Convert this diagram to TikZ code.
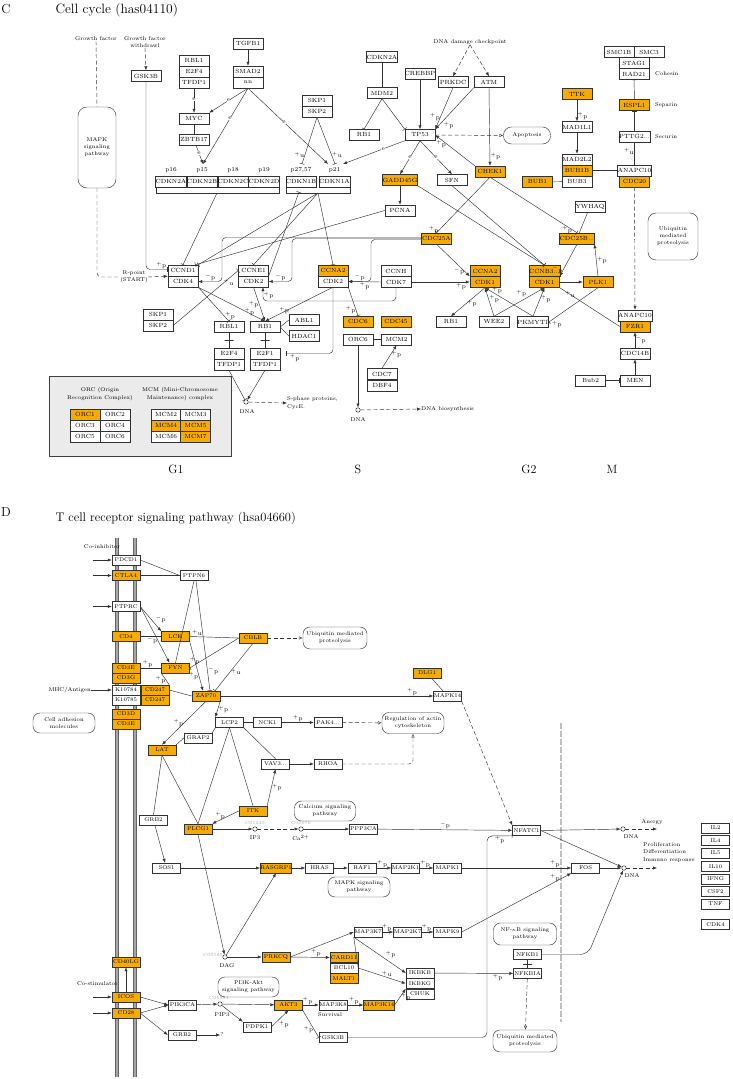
\documentclass[tikz,border=0pt]{standalone}
\usepackage{fontspec}
\usetikzlibrary{arrows.meta}
\definecolor{keggorange}{RGB}{246,171,0}
\tikzset{
  gene/.style={draw=black!80, fill=white, minimum width=30pt, minimum height=11pt, inner sep=0pt, font=\fontsize{6}{6}\selectfont},
  hit/.style={fill=keggorange},
  gd/.style={gene, minimum width=28pt, minimum height=10pt, font=\fontsize{5.5}{6}\selectfont},
  pway/.style={draw=black!80, rounded corners=5pt, align=center, inner sep=1pt, font=\fontsize{5.5}{7}\selectfont},
  txt/.style={align=center, inner sep=0pt, font=\fontsize{5.5}{7.5}\selectfont},
  lab/.style={inner sep=0.5pt, font=\fontsize{6}{6}\selectfont},
  elab/.style={lab, fill=white, inner sep=0.2pt},
  cpd/.style={circle, draw=black!85, fill=white, inner sep=0pt, minimum size=4.5pt},
  cid/.style={inner sep=0pt, text=black!35, font=\fontsize{4.5}{5}\selectfont},
  act/.style={draw=black!80, -{Latex[length=4pt,width=3.2pt]}},
  inh/.style={draw=black!80, -{Bar[width=5pt]}},
  lnk/.style={draw=black!80},
  dsh/.style={dash pattern=on 4pt off 2.5pt},
  opn/.style={draw=black!80, -{Latex[open,length=4pt,width=3.5pt]}},
  xbar/.style={draw=black!80, minimum width=9pt, minimum height=0pt, inner sep=0pt},
  phase/.style={font=\fontsize{12}{14}\selectfont},
  membrane/.style={draw=black!60, line width=0.6pt, double=black!35, double distance=2pt},
}
\begin{document}
\begin{tikzpicture}[x=1pt, y=-1pt, line width=0.45pt]
\useasboundingbox (0,0) rectangle (732,1079);

% ===== C =====
\node[font=\fontsize{13}{15}\selectfont] (labC) at (6,9) {C};
\node[anchor=west, font=\fontsize{13.5}{16}\selectfont] (titleC) at (52,10) {Cell cycle (has04110)};

% G1 左边
\node[txt] (gf) at (96,39) {Growth factor};
\node[txt] (gfw) at (145,42) {Growth factor\\withdrawl};
\node[pway, rounded corners=9pt, minimum width=38pt, minimum height=81pt] (mapkC) at (97,147.5) {MAPK\\signaling\\pathway};
\node[txt] (rpoint) at (134,277) {R-point\\(START)};
\node[gene] (gsk3bC) at (146,76) {GSK3B};

\node[gene] (rbl1t) at (194,60.5) {RBL1};
\node[gene] (e2f4t) at (194,71.5) {E2F4};
\node[gene] (tfdp1t) at (194,82.5) {TFDP1};
\node[gene] (tgfb1) at (248,43.5) {TGFB1};
\node[gene] (smad2) at (248,71.5) {SMAD2};
\node[gene] (nn) at (248,82.5) {nn};
\node[gene] (myc) at (194,118.5) {MYC};
\node[gene] (zbtb17) at (194,140) {ZBTB17};
\node[gene] (skp1t) at (317,100.5) {SKP1};
\node[gene] (skp2t) at (317,111.5) {SKP2};

% CDKN
\node[gene] (cdkn2a) at (171,181.5) {CDKN2A};
\node[gene] (cdkn2b) at (202,181.5) {CDKN2B};
\node[gene] (cdkn2c) at (233,181.5) {CDKN2C};
\node[gene] (cdkn2d) at (264,181.5) {CDKN2D};
\node[gene] (cdkn1b) at (301,181.5) {CDKN1B};
\node[gene] (cdkn1a) at (334.5,181.5) {CDKN1A};
\node[lab] (p16) at (171,170) {p16};
\node[lab] (p15) at (202,170) {p15};
\node[lab] (p18) at (233,170) {p18};
\node[lab] (p19) at (264,170) {p19};
\node[lab] (p27) at (301,170) {p27,57};
\node[lab] (p21) at (334.5,170) {p21};
\draw[lnk] (156,188) -- (156,193) -- (279,193) -- (279,188);
\draw[lnk] (286,188) -- (286,193) -- (350,193) -- (350,188);
\coordinate (brk1) at (217,193);
\coordinate (brk2) at (318,193);
\coordinate (p27bar) at (299,192);
\coordinate (p15in) at (203,164);
\coordinate (p27in) at (302,164);
\coordinate (p21a) at (328,164);
\coordinate (p21u) at (335,164);
\coordinate (p21b) at (343,164);

% TP53
\node[gene] (cdkn2at) at (382,57) {CDKN2A};
\node[gene] (mdm2) at (382,93) {MDM2};
\node[gene] (rb1t) at (364,135) {RB1};
\node[gene] (crebbp) at (420,73.5) {CREBBP};
\node[gene] (prkdc) at (453,82) {PRKDC};
\node[gene] (atm) at (489,82) {ATM};
\node[txt] (dnadc) at (470,42) {DNA damage checkpoint};
\node[gene] (tp53) at (420,135) {TP53};
\node[pway, rounded corners=8pt, minimum width=47pt, minimum height=17pt] (apoptosis) at (527,135.5) {Apoptosis};
\node[gene, hit] (gadd45g) at (400,180) {GADD45G};
\node[gene] (sfn) at (452,180) {SFN};
\node[gene, hit] (chek1) at (490,171.5) {CHEK1};
\node[gene] (pcna) at (400,210.5) {PCNA};

% M 右边
\node[gene, hit] (ttk) at (577,94) {TTK};
\node[gene] (mad1l1) at (577,127) {MAD1L1};
\node[gene] (mad2l2) at (577,159.5) {MAD2L2};
\node[gene, hit] (bub1b) at (577,170.5) {BUB1B};
\node[gene] (bub3) at (577,181.5) {BUB3};
\node[gene, hit] (bub1) at (537.5,182) {BUB1};
\node[gene] (smc1b) at (619,52) {SMC1B};
\node[gene] (smc3) at (649,52) {SMC3};
\node[gene] (stag1) at (634,63) {STAG1};
\node[gene] (rad21) at (634,74) {RAD21};
\node[txt, anchor=west] (cohesin) at (655,74) {Cohesin};
\node[gene, hit] (espl1) at (634.5,105) {ESPL1};
\node[txt, anchor=west] (separin) at (655,105) {Separin};
\node[gene] (pttg2) at (634.5,136.5) {PTTG2...};
\node[txt, anchor=west] (securin) at (655,136.5) {Securin};
\node[gene] (anapc10t) at (634.5,170.5) {ANAPC10};
\node[gene, hit] (cdc20) at (634.5,181.5) {CDC20};
\node[pway, rounded corners=8pt, minimum width=50pt, minimum height=47pt] (ubiC) at (673,236.5) {Ubiquitin\\mediated\\proteolysis};
\node[gene] (ywhaq) at (590,206.5) {YWHAQ};
\node[gene, hit] (cdc25b) at (577,238.5) {CDC25B...};
\node[gene, hit] (cdc25a) at (436.5,238.5) {CDC25A};

% G2
\node[gene, hit] (ccna2b) at (485,271) {CCNA2};
\node[gene, hit] (cdk1a) at (485,282) {CDK1};
\node[gene, hit] (ccnb3) at (544.5,271) {CCNB3...};
\node[gene, hit] (cdk1b) at (544.5,282) {CDK1};
\node[gene, hit] (plk1) at (598,282) {PLK1};
\node[gene] (ccnh) at (396,271) {CCNH};
\node[gene] (cdk7) at (396,282) {CDK7};
\node[gene] (rb1g2) at (451,322) {RB1};
\node[gene] (wee2) at (494,322) {WEE2};
\node[gene] (pkmyt1) at (533,322) {PKMYT1};
\node[gene] (anapc10b) at (635,315.5) {ANAPC10};
\node[gene, hit] (fzr1) at (635,326.5) {FZR1};
\node[gene] (cdc14b) at (635,353.5) {CDC14B};
\node[gene] (men) at (635,380.5) {MEN};
\node[gene] (bub2) at (590.5,380.5) {Bub2};

% S
\node[gene, hit] (cdc6) at (358,321.5) {CDC6};
\node[gene] (orc6) at (358,339.5) {ORC6};
\node[gene, hit] (cdc45) at (396,321.5) {CDC45};
\node[gene] (mcm2) at (396.5,339.5) {MCM2};
\node[gene] (cdc7) at (382,374) {CDC7};
\node[gene] (dbf4) at (382,385.5) {DBF4};
\node[cpd] (dnaS) at (358,410) {};
\node[txt] (dnaStxt) at (358,420) {DNA};
\node[txt, anchor=west] (dnabio) at (421,409) {DNA biosynthesis};
\node[gene, hit] (ccna2a) at (333,270.5) {CCNA2};
\node[gene] (cdk2s) at (333,281.5) {CDK2};

% G1
\node[gene] (ccne1) at (253.5,270.5) {CCNE1};
\node[gene] (cdk2e) at (253.5,281.5) {CDK2};
\node[gene] (ccnd1) at (183,270.5) {CCND1};
\node[gene] (cdk4) at (183,281.5) {CDK4};
\node[gene] (skp1b) at (158,314.5) {SKP1};
\node[gene] (skp2b) at (158,325.5) {SKP2};
\node[gene] (rbl1b) at (229,327) {RBL1};
\node[gene] (rb1b) at (265,327) {RB1};
\node[gene] (abl1) at (304,320) {ABL1};
\node[gene] (hdac1) at (304,336) {HDAC1};
\node[gene] (e2f4b) at (229,353.5) {E2F4};
\node[gene] (tfdp1b) at (229,364.5) {TFDP1};
\node[gene] (e2f1) at (265,353.5) {E2F1};
\node[gene] (tfdp1c) at (265,364.5) {TFDP1};
\node[cpd] (dnaG1) at (246,402) {};
\node[txt] (dnaG1txt) at (247,412) {DNA};
\node[txt, anchor=west, align=left] (sphase) at (287,403) {S-phase proteins,\\CycE.};

% ORC / MCM 方框
\draw[draw=black!75, fill=black!8, line width=0.8pt] (49,376) rectangle (231,456);
\node[txt] (orctitle) at (100,394) {ORC (Origin\\Recognition Complex)};
\node[txt] (mcmtitle) at (180,394) {MCM (Mini-Chromosome\\Maintenance) complex};
\node[gene, hit] (orc1) at (85,414.5) {ORC1};
\node[gene] (orc2) at (115,414.5) {ORC2};
\node[gene] (orc3) at (85,425.5) {ORC3};
\node[gene] (orc4) at (115,425.5) {ORC4};
\node[gene] (orc5) at (85,436.5) {ORC5};
\node[gene] (orc6t) at (115,436.5) {ORC6};
\node[gene] (mcm2t) at (166,414.5) {MCM2};
\node[gene] (mcm3) at (195.5,414.5) {MCM3};
\node[gene, hit] (mcm4) at (166,425.5) {MCM4};
\node[gene, hit] (mcm5) at (195.5,425.5) {MCM5};
\node[gene] (mcm6) at (166,436.5) {MCM6};
\node[gene, hit] (mcm7) at (195.5,436.5) {MCM7};

\node[phase] (g1) at (176,469) {G1};
\node[phase] (sph) at (358,469) {S};
\node[phase] (g2) at (529,469) {G2};
\node[phase] (mph) at (612,469) {M};

% 连线 C
\draw[lnk, dsh] (gf.south) -- (mapkC.north);
\draw[lnk, dsh, rounded corners=4pt] (mapkC.south) |- (rpoint.west);
\draw[act, dsh] (rpoint.east) -- (ccnd1.south west);
\draw[act, dsh] (gfw.south) -- (gsk3bC.north);
\draw[inh, rounded corners=4pt] (gsk3bC.south) |- ([yshift=1pt]ccnd1.west) node[lab, pos=.85, above] {$^+$p};
\draw[act] (tgfb1) -- (smad2);
\draw[act] (tfdp1t) -- (myc) node[elab, pos=.45] {e};
\draw[act] (nn.south) -- (myc.north east) node[elab, pos=.5] {e};
\draw[inh] (myc) -- (zbtb17);
\draw[act] (zbtb17) -- (p15in) node[elab, pos=.4] {e};
\draw[act] (nn.south) -- (p15in) node[elab, pos=.4] {e};
\draw[act] (nn.south) -- (p21a) node[elab, pos=.45] {e};
\draw[inh] (skp2t.south) -- (p27in) node[lab, pos=.8, left] {$^+$u};
\draw[inh] (skp2t.south) -- (p21u) node[lab, pos=.8, right] {$^+$u};
\draw[act] (tp53.south west) -- (p21b) node[elab, pos=.35] {e};
\draw[inh] (cdkn2at) -- (mdm2);
\draw[inh] (mdm2.south) -- (rb1t.north);
\draw[inh] (mdm2.south) -- (tp53.north west);
\draw[act] (crebbp) -- (tp53);
\draw[act] (prkdc.south) -- (tp53.north east) node[lab, pos=.7, left] {$^+$p};
\draw[act] (atm.south west) -- (tp53.north east) node[lab, pos=.8, below right] {$^+$p};
\draw[act] (atm.south) -- (chek1.north) node[lab, pos=.88, right] {$^+$p};
\draw[act] (chek1.north west) -- (tp53.east) node[lab, pos=.85, below] {$^+$p};
\draw[act, dsh] (dnadc.south) -- (prkdc.north);
\draw[act, dsh] (dnadc.south) -- (atm.north);
\draw[opn, dsh] (tp53.east) -- (apoptosis.west);
\draw[act] (tp53.south) -- (gadd45g.north) node[elab, pos=.5] {e};
\draw[act] (tp53.south) -- (sfn.north) node[elab, pos=.5] {e};
\draw[act] (gadd45g) -- (pcna);
\draw[act] (ttk) -- (mad1l1) node[lab, pos=.75, right] {$^+$p};
\draw[act] (mad1l1) -- (mad2l2);
\draw[lnk] (bub1) -- (bub3);
\draw[inh] (bub1b.east) -- (anapc10t.west);
\draw[inh] (espl1) -- (rad21);
\draw[inh] (pttg2) -- (espl1);
\draw[inh] (anapc10t) -- (pttg2) node[lab, pos=.6, left] {$^+$u};
\draw[act, dsh] (cdc20) -- (anapc10b);
\draw[lnk] (ywhaq) -- (cdc25b);
\draw[inh] (chek1.south) -- (cdc25a.north) node[lab, pos=.95, left] {$^+$p};
\draw[inh] (chek1.south) -- (cdc25b.north) node[lab, pos=.95, left] {$^+$p};
\draw[inh] (gadd45g.south east) -- (ccnb3.north);
\draw[inh] (sfn.south) -- (ccnb3.north);
\draw[act] (cdc25a.south) -- (cdk1a.north west) node[lab, pos=.85, left] {$^-$p};
\draw[act] (cdk7.east) -- (cdk1a.west) node[lab, pos=.85, below] {$^+$p};
\draw[act] (cdk1b) -- (plk1);
\draw[act] (plk1.north) -- (cdc25b.south east) node[lab, pos=.5, right] {$^+$p};
\draw[act] (cdc25b.south) -- (cdk1b.north east) node[lab, pos=.8, left] {$^-$p};
\draw[act] (cdk1a.south) -- (rb1g2.north) node[lab, pos=.55, right] {$^+$p};
\draw[act] (wee2.north) -- (cdk1a.south) node[lab, pos=.6, right] {$^+$p};
\draw[act] (wee2.north) -- (cdk1b.south) node[lab, pos=.65, above left] {$^+$p};
\draw[act] (pkmyt1.north) -- (cdk1a.south) node[lab, pos=.75, above] {$^+$p};
\draw[act] (pkmyt1.north) -- (cdk1b.south) node[lab, pos=.6, right] {$^+$p};
\draw[inh] (plk1.south) -- (pkmyt1.east) node[lab, pos=.95, below right] {$^+$p};
\draw[lnk] (fzr1.west) -- (cdk1b.south east) node[lab, pos=.92, below right] {$^+$u};
\draw[act] (cdc14b) -- (fzr1) node[lab, pos=.5, right] {$^-$p};
\draw[act] (men) -- (cdc14b);
\draw[inh] (bub2) -- (men);
\draw[lnk] (orc6) -- (mcm2);
\draw[act] (cdc7.north) -- (mcm2.south) node[lab, pos=.6, right] {$^+$p};
\draw[act] (orc6) -- (dnaS);
\draw[act, dsh] (dnaS) -- (dnabio.west);
\draw[act, rounded corners=4pt] ([yshift=1pt]cdc25a.west) -| (222,281.5) -- (cdk4.east) node[lab, pos=.5, above] {$^-$p};
\draw[act, rounded corners=4pt] (cdc25a.west) -| (292,281.5) -- (cdk2e.east) node[lab, pos=.5, above] {$^-$p};
\draw[act, rounded corners=4pt] ([yshift=-1pt]cdc25a.west) -| (371,281.5) -- (cdk2s.east) node[lab, pos=.5, above] {$^-$p};
\draw[act] (cdk7.west) -- (cdk2s.east) node[lab, pos=.5, below] {$^+$p};
\draw[act, rounded corners=4pt] (cdk7.south) |- (263,301) -- ([xshift=9.5pt]cdk2e.south) node[lab, pos=.4, right] {$^+$p};
\draw[inh] (brk1) -- (ccnd1.north);
\draw[inh] (brk2) -- (ccnd1.north east);
\draw[inh] (pcna.west) -- ([xshift=-3pt]ccnd1.north east);
\draw[inh] (brk2) -- (ccne1.north);
\draw[inh] (brk2) -- (ccna2a.north);
\draw[inh] (cdk2e.north east) -- (p27bar);
\draw[inh] (cdk4.south east) -- (rbl1b.north) node[lab, pos=.85, right] {$^+$p};
\draw[act] (cdk4.south east) -- (rb1b.north) node[lab, pos=.85, above left] {$^+$p};
\draw[act] (cdk2e.south) -- (rb1b.north) node[lab, pos=.5, left] {$^+$p};
\draw[act] (cdk2s.south) -- (rb1b.north) node[lab, pos=.8, above right] {$^+$p};
\draw[inh] (skp2b.east) -- (ccne1.west) node[lab, pos=.85, below] {$^+$u};
\draw[lnk] (rbl1b) -- (e2f4b) node[xbar, pos=.5] {};
\draw[lnk] (rb1b) -- (e2f1) node[xbar, pos=.5] {};
\draw[inh, rounded corners=4pt] (cdk2s.south) |- ([xshift=6pt]e2f1.east) node[lab, pos=.97, below right] {$^+$p};
\draw[lnk] (abl1.west) -- (rb1b.east);
\draw[lnk] (hdac1.west) -- (rb1b.east);
\draw[inh] (tfdp1b.south) -- (dnaG1);
\draw[act] (tfdp1c.south) -- (dnaG1);
\draw[act, dsh] (dnaG1) -- (sphase.west);
\draw[inh] (cdk2s.south east) -- (cdc6.north) node[lab, pos=.8, left] {$^+$p};

% ===== D =====
\node[font=\fontsize{13}{15}\selectfont] (labD) at (6,512) {D};
\node[anchor=west, font=\fontsize{12.5}{15}\selectfont] (titleD) at (52,518) {T cell receptor signaling pathway (hsa04660)};

% 细胞膜
\draw[membrane] (117,538) -- (117,1077);
\draw[membrane] (135,538) -- (135,1077);
\draw[draw=black!25, line width=2.5pt, dash pattern=on 6pt off 2pt] (561,723) -- (561,1022);

% 膜上受体
\node[txt] (coinh) at (102,547) {Co-inhibitor};
\node[gd] (pdcd1) at (126,560) {PDCD1};
\node[gd, hit] (ctla4) at (126,575.5) {CTLA4};
\node[gd] (ptprc) at (126,606.5) {PTPRC};
\node[gd, hit] (cd4) at (126,636.5) {CD4};
\node[gd, hit] (cd3e) at (126,668) {CD3E};
\node[gd, hit] (cd3g) at (126,678) {CD3G};
\node[gd] (k10784) at (126,690) {K10784};
\node[gd] (k10785) at (126,700) {K10785};
\node[gd, hit] (cd247a) at (155,690) {CD247};
\node[gd, hit] (cd247b) at (155,700) {CD247};
\node[gd, hit] (cd3d) at (126,714) {CD3D};
\node[gd, hit] (cd3eb) at (126,724) {CD3E};
\coordinate (inpd) at (93,560);
\coordinate (inct) at (93,575.5);
\coordinate (inpt) at (93,606.5);
\node[txt, anchor=east] (mhc) at (91,690) {MHC/Antigen};
\node[pway, rounded corners=7pt, minimum width=62pt, minimum height=20pt] (celladh) at (64,723) {Cell adhesion\\molecules};
\node[gd, hit] (cd40lg) at (126,962) {CD40LG};
\node[txt, anchor=east] (costim) at (118,984) {Co-stimulator};
\node[gd, hit] (icos) at (126,997) {ICOS};
\node[gd, hit] (cd28) at (126,1013) {CD28};
\coordinate (inic) at (93,997);
\coordinate (incd) at (93,1013);

% 胞内
\node[gd] (ptpn6) at (194,575.5) {PTPN6};
\node[gd, hit] (lck) at (175.5,636.5) {LCK};
\node[gd, hit] (fyn) at (175.5,668) {FYN};
\node[gd, hit] (cblb) at (253,638) {CBLB};
\node[pway, rounded corners=7pt, minimum width=64pt, minimum height=22pt] (ubiD1) at (335,638) {Ubiquitin mediated\\proteolysis};
\node[gd, hit] (zap70) at (206,696) {ZAP70};
\node[gd, hit] (dlg1) at (427,673) {DLG1};
\node[gd] (mapk14) at (447.5,696) {MAPK14};
\node[gd] (lcp2) at (229.5,722.5) {LCP2};
\node[gd] (nck1) at (267.5,722.5) {NCK1};
\node[gd] (pak4) at (328,722.5) {PAK4...};
\node[pway, rounded corners=7pt, minimum width=62pt, minimum height=21pt] (regact) at (413,723) {Regulation of actin\\cytoskeleton};
\node[gd] (grap2) at (198,738) {GRAP2};
\node[gd, hit] (lat) at (162,750) {LAT};
\node[gd] (vav3) at (275.5,764) {VAV3...};
\node[gd] (rhoa) at (328,764) {RHOA};
\node[gd, hit] (itk) at (253,811) {ITK};
\node[pway, rounded corners=7pt, minimum width=61pt, minimum height=20pt] (calcium) at (325,811) {Calcium signaling\\pathway};
\node[gd] (grb2a) at (153.5,820) {GRB2};
\node[gd, hit] (plcg1) at (198,829) {PLCG1};
\node[cpd] (ip3) at (255,829) {};
\node[cid] (ip3id) at (255,823) {C01245};
\node[txt] (ip3txt) at (255,838) {IP3};
\node[cpd] (ca) at (301,829) {};
\node[cid] (caid) at (301,823) {C00076};
\node[txt] (catxt) at (301,838) {Ca$^{2+}$};
\node[gd] (ppp3ca) at (363.5,829) {PPP3CA};
\node[gd] (nfatc1) at (526.5,830.5) {NFATC1};
\node[cpd] (dna1) at (623,829) {};
\node[txt] (dna1txt) at (631,837) {DNA};
\coordinate (anergyend) at (657,829);
\node[txt] (anergy) at (652,822) {Anergy};
\node[cpd] (dna2) at (624,868) {};
\node[txt] (dna2txt) at (632,876) {DNA};
\coordinate (proend) at (657,868);
\node[txt, anchor=west, align=left, font=\fontsize{5.5}{7.8}\selectfont] (prolif) at (643,852.5) {Proliferation\\Differentiation\\Immuno response};
\node[gd] (il2) at (715.5,828) {IL2};
\node[gd] (il4) at (715.5,840.5) {IL4};
\node[gd] (il5) at (715.5,853) {IL5};
\node[gd] (il10) at (715.5,866.5) {IL10};
\node[gd] (ifng) at (715.5,879) {IFNG};
\node[gd] (csf2) at (715.5,891.5) {CSF2};
\node[gd] (tnf) at (715.5,904) {TNF};
\node[gd] (cdk4d) at (715.5,924.5) {CDK4};
\node[gd] (fos) at (585.5,868) {FOS};
\node[gd] (sos1) at (166.5,868) {SOS1};
\node[gd, hit] (rasgrp1) at (276,868) {RASGRP1};
\node[gd] (hras) at (319.5,868) {HRAS};
\node[gd] (raf1) at (362,868) {RAF1};
\node[gd] (map2k1) at (405.5,868) {MAP2K1};
\node[gd] (mapk1) at (447.5,868) {MAPK1};
\node[pway, rounded corners=7pt, minimum width=62pt, minimum height=20pt] (mapkD) at (359,887) {MAPK signaling\\pathway};
\node[cpd] (dag) at (225,957) {};
\node[cid, anchor=east] (dagid) at (223,955) {C00165};
\node[txt] (dagtxt) at (227,966) {DAG};
\node[gd, hit] (prkcq) at (276,957) {PRKCQ};
\node[gd] (map3k7) at (368,932) {MAP3K7};
\node[gd] (map2k7) at (407.5,932) {MAP2K7};
\node[gd] (mapk9) at (447.5,932) {MAPK9};
\node[gd, hit] (card11) at (344,957.5) {CARD11};
\node[gd] (bcl10) at (344,968) {BCL10};
\node[gd, hit] (malt1) at (344,978.5) {MALT1};
\node[gd] (ikbkb) at (420,973) {IKBKB};
\node[gd] (ikbkg) at (420,983.5) {IKBKG};
\node[gd] (chuk) at (420,994) {CHUK};
\node[pway, rounded corners=7pt, minimum width=63pt, minimum height=22pt] (nfkbD) at (525,934) {NF-$\kappa$B signaling\\pathway};
\node[gd] (nfkb1) at (527.5,954.5) {NFKB1};
\node[gd] (nfkbia) at (527.5,973.5) {NFKBIA};
\node[pway, rounded corners=7pt, minimum width=64pt, minimum height=22pt] (ubiD2) at (525,1041) {Ubiquitin mediated\\proteolysis};
\node[gd, hit] (map3k14) at (379,1005) {MAP3K14};
\node[gd] (pik3ca) at (182.5,1005) {PIK3CA};
\node[cpd] (pip3) at (220,1004) {};
\node[cid] (pip3id) at (219,998) {C05981};
\node[txt] (pip3txt) at (222,1015) {PIP3};
\node[pway, rounded corners=7pt, minimum width=61pt, minimum height=20pt] (pi3k) at (248.5,987) {PI3K-Akt\\signaling pathway};
\node[gd, hit] (akt3) at (288.5,1005) {AKT3};
\node[gd] (pdpk1) at (257,1027) {PDPK1};
\node[gd] (grb2b) at (182,1035) {GRB2};
\node[txt] (qm) at (222,1035) {?};
\node[gd] (map3k8) at (333,1005) {MAP3K8};
\node[txt] (survival) at (330,1015) {Survival};
\node[gd] (gsk3bD) at (333,1037.5) {GSK3B};
\coordinate (gskturn) at (487,836);

% 连线 D
\draw[act] (inpd) -- (pdcd1);
\draw[act] (inct) -- (ctla4);
\draw[act] (inpt) -- (ptprc);
\draw[act] (mhc.east) -- (k10784.west);
\draw[act] (inic) -- (icos);
\draw[act] (incd) -- (cd28);
\draw[lnk] (pdcd1.east) -- (ptpn6.west);
\draw[lnk] (ctla4) -- (ptpn6);
\draw[lnk] (ptpn6.south) -- (fyn.north);
\draw[inh] ([xshift=2pt]ptpn6.south) -- ([xshift=4pt]zap70.north) node[lab, pos=.82, right] {$^-$p};
\draw[act] (ptprc.east) -- (lck.north west) node[lab, pos=.7, above right] {$^-$p};
\draw[act] (ptprc.east) -- ([xshift=-6pt]fyn.north) node[lab, pos=.6, left] {$^-$p};
\draw[lnk] (cd4) -- (lck);
\draw[lnk] (cd3e) -- (fyn) node[lab, pos=.35, above] {$^+$p};
\draw[lnk] (cd247a.north east) -- (fyn.south west) node[lab, pos=.4, left] {$^+$p};
\draw[inh] (cblb.west) -- (lck.east) node[lab, pos=.85, above] {$^+$u};
\draw[inh] (cblb.west) -- (fyn.east) node[lab, pos=.9, above] {$^+$p};
\draw[inh] (cblb.south) -- ([xshift=9pt]zap70.north) node[lab, pos=.6, right] {$^+$u};
\draw[opn, dsh] (cblb) -- (ubiD1);
\draw[act] (lck.south east) -- ([xshift=-3pt]zap70.north) node[lab, pos=.7, left] {$^+$p};
\draw[lnk] (cd247a.east) -- (zap70.west);
\draw[act] (zap70.east) -- (mapk14.west) node[lab, pos=.9, above] {$^+$p};
\draw[lnk] (dlg1) -- (mapk14);
\draw[act, dsh] (mapk14.south east) -- (nfatc1.north west);
\draw[act] (zap70.south east) -- (lcp2.north west) node[lab, pos=.5, right] {$^+$p};
\draw[act] (zap70.south) -- (lat.north) node[lab, pos=.5, left] {$^+$p};
\draw[lnk] (lcp2) -- (nck1);
\draw[act] (nck1) -- (pak4) node[lab, pos=.5, above] {$^+$p};
\draw[opn, dsh] (pak4) -- (regact);
\draw[lnk] (lcp2.south west) -- (grap2.north east);
\draw[lnk] (grap2.west) -- (lat.north east);
\draw[lnk] (lcp2.south east) -- (vav3.north);
\draw[act] (vav3) -- (rhoa);
\draw[opn, dsh, rounded corners=4pt] (rhoa.east) -| (regact.south);
\draw[lnk] (lcp2.south) -- (plcg1.north);
\draw[lnk] (lcp2.south) -- (itk.north);
\draw[act] (itk.north east) -- (vav3.south) node[lab, pos=.5, right] {$^+$p};
\draw[act] (itk.west) -- (plcg1.north east) node[lab, pos=.7, above] {$^+$p};
\draw[lnk] (lat.south) -- (grb2a.north);
\draw[lnk] (lat.south) -- (plcg1.north);
\draw[act] (grb2a) -- (sos1);
\draw[act] (plcg1.east) -- (ip3);
\draw[act, dsh] (ip3) -- (ca);
\draw[act] (ca) -- (ppp3ca);
\draw[act] (ppp3ca) -- (nfatc1) node[lab, pos=.5, above] {$^-$p};
\draw[act] (nfatc1.east) -- (dna1);
\draw[act, dsh] (dna1) -- (anergyend);
\draw[act] (nfatc1.east) -- (dna2);
\draw[act] (fos) -- (dna2);
\draw[act, dsh] (dna2) -- (proend);
\draw[act, rounded corners=8pt] (nfkb1.east) -- (588,954.5) -- (dna2);
\draw[act] (sos1) -- (rasgrp1);
\draw[act] (rasgrp1) -- (hras);
\draw[act] (hras) -- (raf1);
\draw[act] (raf1) -- (map2k1) node[lab, pos=.4, above] {$^+$p};
\draw[act] (map2k1) -- (mapk1) node[lab, pos=.4, above] {$^+$p};
\draw[act] (mapk1) -- (fos) node[lab, pos=.85, above] {$^+$p};
\draw[act] (mapk9.east) -- (fos.south west) node[lab, pos=.85, above] {$^+$p};
\draw[act] (plcg1.south) -- (dag);
\draw[act] (dag) -- (rasgrp1.south);
\draw[act] (dag) -- (prkcq);
\draw[act] (prkcq.east) -- (map3k7.west);
\draw[act] (prkcq.east) -- (card11.west) node[lab, pos=.65, above] {$^+$p};
\draw[act] (map3k7) -- (map2k7) node[lab, pos=.4, above] {$^+$p};
\draw[act] (map2k7) -- (mapk9) node[lab, pos=.4, above] {$^+$p};
\draw[lnk] (map3k7.south west) -- (bcl10.east);
\draw[act] (map3k7.south west) -- (ikbkb.west) node[lab, pos=.6, above right] {$^+$p};
\draw[act] (bcl10.east) -- (ikbkg.west) node[lab, pos=.6, above] {$^+$u};
\draw[act] (map3k14.east) -- (ikbkg.south west) node[lab, pos=.5, right] {$^+$p};
\draw[act] (ikbkb) -- (nfkbia) node[lab, pos=.8, below] {$^+$p};
\draw[lnk] (nfkb1) -- (nfkbia) node[xbar, pos=.5] {};
\draw[opn, dsh] (nfkbia) -- (ubiD2);
\draw[act] (icos) -- (cd40lg);
\draw[act] (icos.east) -- (pik3ca.west);
\draw[act] (cd28.east) -- (pik3ca.west);
\draw[act] (cd28.east) -- (grb2b.west);
\draw[act] (grb2b) -- (qm);
\draw[act] (pik3ca) -- (pip3);
\draw[act] (pip3) -- (akt3);
\draw[act] (pip3) -- (pdpk1.north west);
\draw[act] (pdpk1.east) -- (akt3.south) node[lab, pos=.4, below right] {$^+$p};
\draw[act] (akt3) -- (map3k8) node[lab, pos=.3, above] {$^+$p};
\draw[act] (map3k8) -- (map3k14) node[lab, pos=.4, above] {$^+$p};
\draw[inh] (akt3.south east) -- (gsk3bD.west) node[lab, pos=.7, left] {$^+$p};
\draw[inh, rounded corners=5pt] (gsk3bD.east) -| (gskturn) -- (nfatc1.south west) node[lab, pos=.5, below] {$^+$p};
\end{tikzpicture}
\end{document}
